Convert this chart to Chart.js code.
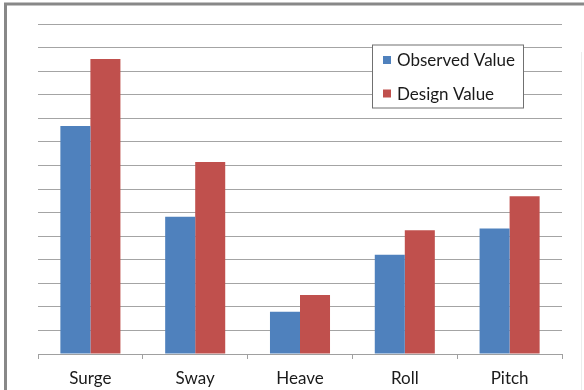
<!DOCTYPE html>
<html>
<head>
<meta charset="utf-8">
<script src="https://cdn.jsdelivr.net/npm/chart.js@4"></script>
<style>
html,body{margin:0;padding:0;background:#fff;}
#wrap{width:584px;height:390px;position:relative;}
</style>
</head>
<body>
<div id="wrap"><canvas id="c" width="584" height="390"></canvas></div>
<script>
const categories = ["Surge", "Sway", "Heave", "Roll", "Pitch"];
const observedValue = [9.67, 5.82, 1.79, 4.21, 5.32];
const designValue = [12.52, 8.15, 2.5, 5.25, 6.69];
const seriesNames = ["Observed Value", "Design Value"];
const yMin = 0, yMax = 14, yStep = 1;

const FONT = "Lato, 'Open Sans', sans-serif";

const frame = {
  id: 'frame',
  beforeDraw(chart) {
    const ctx = chart.ctx;
    ctx.save();
    ctx.fillStyle = '#fff';
    ctx.fillRect(0, 0, chart.width, chart.height);
    ctx.strokeStyle = '#888888';
    ctx.lineWidth = 3;
    ctx.beginPath();
    ctx.moveTo(5.5, chart.height);
    ctx.lineTo(5.5, 4);
    ctx.lineTo(chart.width, 4);
    ctx.stroke();
    ctx.strokeStyle = '#ececec';
    ctx.lineWidth = 1;
    ctx.beginPath();
    ctx.moveTo(581.5, 52);
    ctx.lineTo(581.5, chart.height);
    ctx.stroke();
    ctx.restore();
  }
};

const boxLegend = {
  id: 'boxLegend',
  afterDraw(chart) {
    const ctx = chart.ctx;
    const x = 372, y = 44.5, w = 151, h = 63;
    ctx.save();
    ctx.fillStyle = '#fff';
    ctx.fillRect(x, y, w, h);
    ctx.strokeStyle = '#707070';
    ctx.lineWidth = 1;
    ctx.strokeRect(x + 0.5, y + 0.5, w, h);
    ctx.font = "17px " + FONT;
    ctx.textBaseline = 'middle';
    chart.data.datasets.forEach((ds, i) => {
      const cy = 60 + i * 33.5;
      ctx.fillStyle = ds.backgroundColor;
      ctx.fillRect(383, cy - 4, 8, 8);
      ctx.fillStyle = '#1a1a1a';
      ctx.fillText(ds.label, 397, cy + 1);
    });
    ctx.restore();
  }
};

new Chart(document.getElementById('c'), {
  type: 'bar',
  data: {
    labels: categories,
    datasets: [
      { label: seriesNames[0], data: observedValue, backgroundColor: '#4F81BD' },
      { label: seriesNames[1], data: designValue, backgroundColor: '#C0504D' }
    ]
  },
  options: {
    responsive: false,
    animation: false,
    devicePixelRatio: 1,
    layout: { padding: { left: 38, right: 22, top: 24, bottom: -8 } },
    categoryPercentage: 0.573,
    barPercentage: 1.0,
    plugins: { legend: { display: false }, tooltip: { enabled: false } },
    scales: {
      x: {
        offset: true,
        grid: { offset: true, drawOnChartArea: false, drawTicks: true, tickLength: 5, color: '#a0a0a0' },
        border: { display: true, color: '#a0a0a0', width: 1 },
        ticks: { color: '#1a1a1a', font: { family: FONT, size: 17, lineHeight: 1.0 }, padding: 11 }
      },
      y: {
        min: yMin, max: yMax,
        ticks: { display: false, stepSize: yStep },
        grid: { drawTicks: false, color: '#a4a4a4', lineWidth: 1 },
        border: { display: false }
      }
    }
  },
  plugins: [frame, boxLegend]
});
</script>
</body>
</html>
